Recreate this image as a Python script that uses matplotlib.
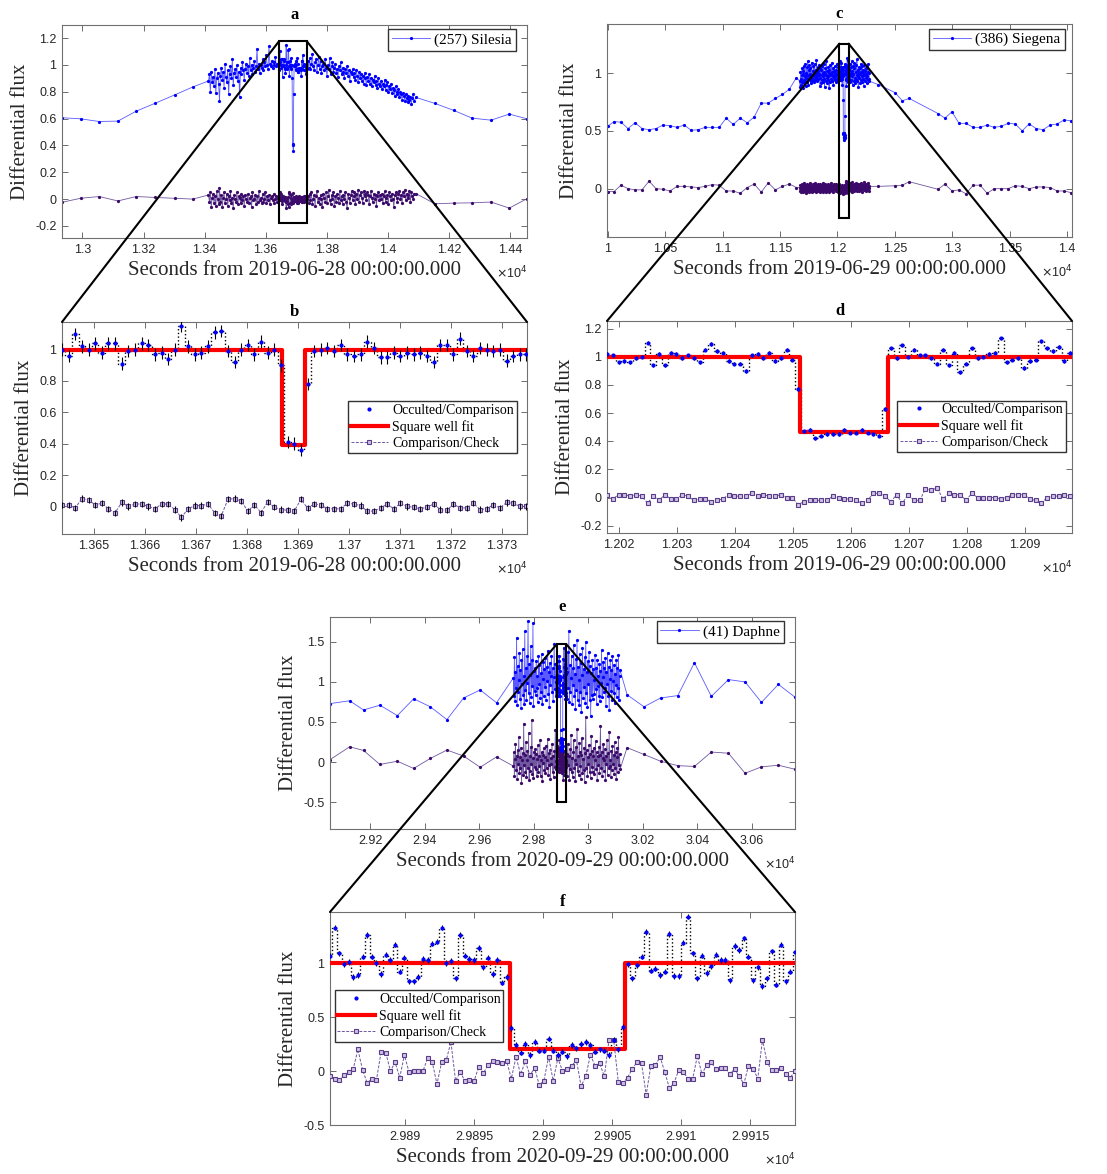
import numpy as np
import matplotlib
matplotlib.use('Agg')
import matplotlib.pyplot as plt
from matplotlib.ticker import FixedLocator, FuncFormatter
from matplotlib.patches import Rectangle, ConnectionPatch

plt.rcParams['font.family'] = ['Liberation Sans', 'DejaVu Sans']
SERIF = 'Liberation Serif'

# ---------------- data: panel a / b  (2019-06-28, (257) Silesia) ----------------
a_sparse_left_t = [12933, 12994, 13055, 13116, 13176, 13239, 13303, 13361]
a_sparse_left_blue = [0.606, 0.598, 0.578, 0.581, 0.655, 0.715, 0.777, 0.835]
a_sparse_left_purple = [-0.024, 0.006, 0.019, -0.014, 0.019, 0.012, 0.006, 0.0]
a_sparse_right_t = [14093, 14154, 14217, 14276, 14338, 14398, 14456]
a_sparse_right_blue = [0.757, 0.713, 0.66, 0.603, 0.588, 0.633, 0.598]
a_sparse_right_purple = [0.04, -0.035, -0.03, -0.028, -0.022, -0.067, 0.003]
a_dense_step = 3  # seconds between dense samples (values below in hundredths)
a_dense_left_blue = [88, 93, 80, 95, 87, 91, 84, 97, 79, 90,
                     94, 86, 73, 92, 98, 89, 95, 83, 101, 91,
                     87, 96, 78, 93, 99, 90, 104, 85, 94, 97,
                     91, 100, 88, 95, 76, 98, 93, 102, 96, 89,
                     97, 101, 94, 99, 92, 105, 96, 100, 93, 98,
                     103, 95, 99, 112, 97, 101, 94, 100, 98, 104,
                     96, 102, 99, 107, 100, 97, 114, 101, 99, 103,
                     98, 102, 100, 106, 99, 101, 100]
a_dense_right_blue = [103, 98, 105, 97, 101, 108, 99, 96, 102, 104,
                      95, 100, 106, 97, 103, 94, 99, 101, 96, 104,
                      98, 92, 100, 97, 105, 93, 99, 102, 95, 98,
                      101, 94, 97, 91, 99, 96, 102, 93, 98, 95,
                      90, 97, 94, 99, 92, 96, 88, 95, 93, 97,
                      91, 94, 89, 96, 92, 87, 95, 90, 93, 88,
                      92, 86, 94, 90, 85, 91, 88, 93, 86, 90,
                      84, 89, 87, 92, 85, 88, 83, 90, 86, 84,
                      88, 82, 86, 84, 89, 81, 85, 87, 80, 84,
                      82, 86, 79, 83, 81, 77, 84, 80, 78, 82,
                      76, 80, 78, 74, 79, 77, 73, 78, 75, 72,
                      77, 74, 76, 71, 75, 78, 73]
a_dense_left_purple = [3, -2, 5, -6, 1, 4, -3, 2, -5, 6,
                       0, -4, 8, -2, 3, -6, 1, 5, -3, 0,
                       4, -5, 2, -1, 6, -3, 1, -7, 3, 0,
                       -2, 5, -4, 2, 1, -3, 4, -1, 2, -5,
                       3, 0, -2, 4, -3, 1, 2, -6, 5, -1,
                       0, 3, -4, 2, -2, 6, -1, 1, -3, 4,
                       -2, 0, 5, -3, 2, -1, 3, -4, 1, 2,
                       -1, 4, -3, 0, 2, -2, 1]
a_dense_right_purple = [2, -3, 4, -1, 5, -4, 0, 3, -5, 2,
                        6, -2, 1, -4, 3, 0, -6, 4, 1, -2,
                        5, -3, 2, 7, -1, -4, 3, 0, 5, -5,
                        2, -2, 4, 1, -3, 6, -1, 2, -4, 3,
                        0, 5, -2, -7, 4, 1, -3, 3, 6, -1,
                        2, 5, -4, 4, 0, 7, -2, 3, 5, 1,
                        -3, 6, 2, 4, -1, 5, 3, -4, 2, 6,
                        1, -2, 4, 0, 3, -5, 2, 5, -1, 3,
                        0, 4, -3, 2, 6, -2, 1, 3, -4, 5,
                        2, -1, 4, 0, -6, 3, 5, 1, -2, 4,
                        6, 0, 3, -3, 5, 2, 7, -1, 4, 1,
                        3, 6, -2, 5, 2, 0, 4]
b_t0, b_dt = 13643.8, 1.3
b_blue = [1.00, 0.96, 1.10, 1.02, 1.00, 1.04, 0.98, 1.04, 1.04, 0.91,
          0.99, 1.00, 1.04, 1.03, 0.97, 0.98, 0.94, 1.00, 1.15, 1.02,
          0.97, 0.98, 1.02, 1.11, 1.12, 0.99, 0.92, 1.00, 1.03, 0.97,
          1.05, 0.98, 1.00, 0.90, 0.41, 0.40, 0.36, 0.78, 0.99, 1.00,
          1.01, 0.99, 1.03, 0.97, 0.96, 0.97, 1.05, 1.01, 0.95, 0.95,
          0.98, 0.96, 0.98, 0.97, 0.98, 0.96, 0.92, 1.03, 1.03, 0.97,
          1.07, 0.99, 0.96, 1.01, 1.00, 0.99, 1.00, 0.93, 0.96, 0.97, 0.97]
b_purple = [0.01, 0.01, -0.01, 0.05, 0.04, 0.01, 0.02, -0.015, -0.04, 0.025,
            0.0, 0.015, 0.015, 0.0, -0.015, 0.015, 0.015, -0.02, -0.07, -0.015,
            0.005, 0.005, 0.015, -0.04, -0.06, 0.045, 0.05, 0.035, -0.03, 0.01,
            -0.04, 0.03, -0.005, -0.02, -0.025, -0.03, 0.045, -0.01, 0.015, 0.01,
            -0.015, -0.015, -0.015, 0.02, 0.015, 0.005, -0.03, -0.03, -0.01, 0.015,
            -0.015, 0.02, 0.0, -0.005, -0.015, -0.005, 0.015, -0.02, -0.025, 0.015,
            -0.01, -0.01, 0.02, -0.02, -0.015, 0.01, -0.01, 0.025, 0.02, 0.0, 0.0]
b_blue_err, b_purple_err = 0.04, 0.02
b_fit = dict(level=1.0, depth=0.39, t_in=13686.9, t_out=13691.5)

# ---------------- data: panel c / d  (2019-06-29, (386) Siegena) ----------------
c_sparse_left_t = [10000, 10055, 10116, 10177, 10238, 10299, 10360, 10421, 10482, 10543,
                   10605, 10666, 10727, 10788, 10849, 10910, 10971, 11032, 11093, 11154,
                   11215, 11276, 11337, 11398, 11460, 11521, 11582, 11643]
c_sparse_left_blue = [0.54, 0.58, 0.575, 0.52, 0.57, 0.52, 0.51, 0.52, 0.55, 0.545,
                      0.53, 0.55, 0.505, 0.51, 0.53, 0.53, 0.53, 0.61, 0.555, 0.61,
                      0.57, 0.62, 0.74, 0.74, 0.78, 0.815, 0.86, 0.96]
c_sparse_left_purple = [-0.025, -0.025, 0.03, 0.0, -0.01, -0.01, 0.065, 0.0, -0.005, -0.02,
                        0.02, 0.02, 0.015, 0.01, 0.02, 0.035, 0.03, -0.02, -0.02, -0.04,
                        0.01, 0.04, -0.03, 0.05, -0.01, 0.02, 0.04, 0.01]
c_sparse_right_t = [12357, 12504, 12565, 12626, 12876, 12937, 12998, 13059, 13120, 13182,
                    13243, 13304, 13365, 13426, 13487, 13548, 13609, 13670, 13731, 13792,
                    13853, 13914, 13976, 14037]
c_sparse_right_blue = [0.90, 0.83, 0.76, 0.78, 0.65, 0.61, 0.665, 0.565, 0.565, 0.53,
                       0.53, 0.55, 0.53, 0.54, 0.565, 0.56, 0.50, 0.56, 0.52, 0.51,
                       0.55, 0.56, 0.595, 0.585]
c_sparse_right_purple = [0.02, 0.025, 0.03, 0.06, -0.005, 0.04, -0.02, -0.01, -0.045, 0.03,
                         0.03, -0.04, 0.0, 0.0, 0.0, 0.025, 0.02, 0.0, 0.015, 0.015,
                         0.01, -0.02, -0.02, -0.035]
c_dense_step = 3
c_dense_left_blue = [93, 88, 101, 95, 90, 98, 104, 92, 87, 99,
                     102, 94, 106, 91, 97, 108, 93, 89, 100, 96,
                     105, 92, 98, 110, 95, 90, 103, 97, 107, 94,
                     99, 104, 91, 96, 109, 98, 93, 102, 95, 106,
                     97, 92, 101, 108, 94, 99, 103, 96, 111, 93,
                     100, 97, 105, 95, 102, 98, 107, 99, 89, 104,
                     96, 91, 103, 98, 94, 106, 100, 92, 97, 108,
                     95, 101, 88, 99, 104, 93, 98, 110, 96, 102,
                     91, 97, 105, 94, 100, 87, 103, 98, 92, 107,
                     99, 95, 101, 109, 93, 97, 104, 90, 98, 102,
                     96, 106, 94, 100, 92, 103, 97, 108, 95, 99,
                     101, 93, 105, 98, 96]
c_dense_right_blue = [103, 95, 108, 98, 92, 105, 100, 94, 110, 97,
                      102, 90, 106, 99, 93, 104, 109, 96, 91, 101,
                      107, 95, 98, 112, 93, 103, 97, 88, 105, 100,
                      96, 104, 91, 99, 108, 94, 101, 97, 106, 92,
                      100, 95, 103, 89, 98, 107, 93, 102, 96, 104,
                      99, 91, 105, 97, 94, 101, 108, 95, 100, 93]
c_dense_left_purple = [1, -2, 3, 0, -3, 2, 4, -1, 1, -3,
                       2, 5, -2, 0, 3, -1, 2, -4, 1, 3,
                       0, -2, 4, 1, -1, 2, -3, 3, 0, 5,
                       -2, 1, 2, -1, 3, -3, 0, 4, 1, -2,
                       2, 0, -1, 3, 5, -2, 1, 2, -3, 0,
                       3, -1, 2, 4, -2, 1, 0, 2, -3, 1,
                       4, -2, 0, 3, -1, 2, 5, -3, 1, 0,
                       -1, 3, 2, -2, 4, 0, 1, -3, 2, 3,
                       0, -2, 1, 4, -1, 2, -3, 0, 3, 1,
                       5, -1, 2, 0, -2, 3, 1, -3, 4, 0,
                       2, -1, 3, 1, -2, 4, 0, 2, -1, 3,
                       1, -3, 2, 0, 4]
c_dense_right_purple = [2, -1, 3, 0, 5, -2, 1, 3, -3, 2,
                        6, 0, -1, 3, 1, -2, 4, 2, 0, -1,
                        3, 5, -2, 1, 2, 4, -1, 3, 0, 2,
                        -2, 4, 1, 0, 3, -1, 5, 2, -3, 1,
                        3, 0, 2, 6, -1, 2, 4, 0, -2, 3,
                        1, 4, -1, 2, 5, 0, 3, -2, 1, 2]
d_t0, d_dt = 12017.9, 1.0
d_blue = [1.02, 1.01, 0.96, 0.97, 0.96, 0.99, 1.00, 1.10, 0.94, 1.02,
          0.94, 1.03, 1.02, 0.99, 1.01, 0.99, 0.96, 1.05, 1.09, 1.04,
          1.03, 0.97, 0.95, 0.95, 0.90, 1.01, 1.02, 0.99, 1.03, 0.97,
          0.99, 1.05, 0.98, 0.77, 0.47, 0.48, 0.42, 0.44, 0.45, 0.45,
          0.45, 0.48, 0.46, 0.46, 0.48, 0.46, 0.45, 0.44, 0.63, 1.06,
          0.99, 1.08, 1.00, 1.05, 1.01, 1.01, 0.99, 0.95, 1.05, 0.94,
          1.03, 0.89, 0.95, 1.06, 0.99, 1.00, 1.02, 1.03, 1.13, 0.96,
          0.98, 0.99, 0.92, 0.97, 0.98, 1.11, 1.06, 1.04, 1.07, 0.97, 1.03]
d_purple = [0.015, -0.01, 0.02, 0.02, 0.01, 0.02, 0.01, -0.04, 0.01, -0.02,
            0.02, -0.01, -0.01, 0.02, 0.01, -0.02, -0.01, -0.01, -0.03, -0.02,
            -0.01, 0.02, 0.01, 0.01, 0.01, 0.03, 0.01, 0.02, 0.01, 0.01,
            0.02, 0.0, 0.0, -0.05, -0.03, -0.02, -0.02, -0.02, -0.02, 0.01,
            0.0, -0.01, -0.01, -0.02, -0.04, -0.02, 0.03, 0.03, 0.01, -0.03,
            0.02, -0.04, 0.02, -0.02, -0.02, 0.06, 0.05, 0.07, -0.01, 0.03,
            0.02, 0.02, -0.02, 0.03, 0.0, 0.0, 0.0, 0.0, -0.01, 0.0,
            0.02, 0.02, 0.02, -0.01, -0.02, -0.04, 0.0, 0.01, 0.01, 0.02, 0.01]
d_blue_err = 0.012
d_fit = dict(level=1.0, depth=0.463, t_in=12051.2, t_out=12066.4)

# ---------------- data: panel e / f  (2020-09-29, (41) Daphne) ----------------
e_sparse_left_t = [29052, 29124, 29175, 29235, 29299, 29359, 29420, 29481, 29542, 29603, 29663]
e_sparse_left_blue = [0.73, 0.765, 0.65, 0.71, 0.58, 0.79, 0.69, 0.53, 0.80, 0.90, 0.74]
e_sparse_left_purple = [0.03, 0.19, 0.145, -0.03, 0.01, -0.08, 0.045, 0.15, 0.075, -0.065, 0.065]
e_sparse_right_t = [30142, 30204, 30265, 30328, 30389, 30451, 30514, 30575, 30635, 30697, 30758]
e_sparse_right_blue = [0.84, 0.69, 0.80, 0.83, 1.24, 0.82, 1.03, 1.0, 0.745, 0.97, 0.81]
e_sparse_right_purple = [0.18, 0.095, 0.01, -0.045, -0.055, 0.125, 0.11, -0.14, -0.06, -0.04, -0.09]
e_dense_step = 2
e_dense_left_blue = [105, 82, 131, 76, 112, 93, 155, 71, 120, 88,
                     102, 136, 79, 115, 68, 128, 97, 141, 84, 108,
                     73, 163, 90, 118, 77, 133, 99, 176, 86, 122,
                     74, 109, 145, 81, 127, 95, 173, 70, 114, 89,
                     118, 84, 126, 92, 107, 75, 133, 98, 121, 80,
                     111, 88, 135, 72, 104, 125, 83, 116, 94, 130,
                     78, 119, 101, 139, 85, 113, 69, 124, 96, 108,
                     132, 87, 117, 76, 106, 148, 91, 123, 82, 100]
e_dense_right_blue = [112, 79, 138, 92, 164, 75, 121, 88, 105, 133,
                      72, 117, 96, 146, 83, 110, 66, 129, 90, 152,
                      78, 119, 102, 71, 135, 87, 124, 62, 109, 142,
                      80, 116, 94, 131, 74, 150, 86, 113, 69, 126,
                      98, 137, 77, 120, 58, 111, 84, 128, 79, 116,
                      103, 85, 134, 91, 118, 73, 127, 95, 108, 82,
                      122, 76, 114, 99, 140, 81, 106, 125, 88, 117,
                      93, 130, 70, 112, 97, 136, 83, 119, 65, 104,
                      127, 89, 115, 78, 132, 101, 86, 121, 74, 110,
                      96, 128, 81, 118, 92, 134, 77, 107, 115]
e_dense_left_purple = [-5, 12, -18, 4, 22, -10, 8, -21, 15, -2,
                       31, -14, 6, -7, 18, -26, 2, 11, -16, 48,
                       -4, 9, -12, 25, -19, 3, 14, -8, 36, -22,
                       7, -11, 19, -3, 52, -15, 5, -20, 13, -6,
                       16, -9, 10, -17, 4, 21, -13, 8, -5, 27,
                       -18, 2, 12, -24, 9, -1, 17, -10, 6, -14,
                       20, -7, 3, 29, -16, 11, -4, 15, -21, 5,
                       -2, 23, -12, 8, -19, 14, -6, 40, -9, 1]
e_dense_right_purple = [10, -17, 23, -4, 8, -22, 16, -9, 34, -13,
                        5, -19, 12, 27, -7, 2, -24, 19, -3, 41,
                        -11, 7, -16, 24, -5, 13, -21, 9, 30, -14,
                        4, -10, 18, -25, 11, 56, -8, 15, -18, 6,
                        -2, 21, -13, 10, -20, 33, -6, 14, -12, 8,
                        17, -15, 3, 26, -9, 12, -22, 7, -4, 19,
                        -14, 9, 45, -7, 13, -18, 5, 22, -11, 2,
                        16, -23, 8, -3, 28, -16, 11, -8, 38, -5,
                        3, -19, 14, -10, 20, -2, 9, -15, 25, -7,
                        12, -21, 6, 17, -12, 31, -4, 10, -9]
f_t0, f_dt = 29884.55, 0.337
f_blue = [1.07, 1.33, 1.09, 0.99, 1.01, 0.87, 0.89, 1.06, 1.26, 1.06,
          1.00, 0.90, 1.08, 1.03, 1.17, 0.92, 1.05, 0.83, 0.83, 0.87,
          1.04, 1.03, 1.18, 1.20, 1.33, 1.00, 1.02, 0.86, 1.26, 1.07,
          1.04, 1.03, 1.14, 0.96, 1.05, 0.90, 1.03, 0.82, 0.87,
          0.40, 0.24, 0.17, 0.25, 0.15, 0.27, 0.19, 0.19, 0.30, 0.19,
          0.15, 0.18, 0.14, 0.24, 0.21, 0.25, 0.27, 0.24, 0.18, 0.20,
          0.19, 0.15, 0.29, 0.20, 0.41,
          0.99, 0.86, 0.98, 1.06, 1.29, 0.93, 0.95, 0.89, 0.92, 1.27,
          0.88, 0.88, 1.19, 1.43, 1.09, 0.86, 1.07, 0.91, 0.97, 1.08,
          1.03, 1.03, 0.84, 1.16, 1.12, 1.23, 1.06, 0.84, 0.96, 0.79,
          0.86, 1.11, 0.80, 1.17, 0.83, 0.92, 1.10]
f_purple = [-0.05, -0.07, -0.08, -0.04, -0.01, 0.02, 0.20, 0.01, -0.11, -0.07,
            -0.08, 0.18, 0.17, 0.00, 0.08, -0.06, 0.15, -0.01, 0.00, 0.00,
            0.00, 0.12, 0.08, -0.12, 0.08, 0.10, 0.27, -0.09, -0.01, -0.09,
            -0.08, -0.09, 0.04, -0.02, 0.06, 0.09, 0.08, 0.07, 0.09,
            -0.07, 0.13, -0.03, 0.09, -0.04, 0.03, -0.13, -0.09, 0.13, -0.09,
            0.12, 0.00, 0.02, 0.05, 0.10, -0.14, -0.05, 0.15, 0.05, 0.07,
            -0.05, 0.29, 0.29, -0.10, -0.11,
            -0.06, 0.02, 0.08, 0.07, -0.22, 0.05, 0.06, 0.13, -0.01, -0.16,
            -0.11, 0.01, -0.01, -0.07, -0.07, 0.14, -0.03, 0.06, 0.08, 0.02,
            0.03, 0.03, -0.03, 0.02, -0.05, -0.12, 0.05, 0.02, -0.07, 0.29,
            0.08, 0.01, 0.01, 0.03, -0.03, -0.06, 0.00]
f_blue_err = 0.025
f_fit = dict(level=1.0, depth=0.20, t_in=29897.6, t_out=29905.9)

# ---------------- text / ticks ----------------
titles = ['a', 'b', 'c', 'd', 'e', 'f']
xlabels = ['Seconds from 2019-06-28 00:00:00.000', 'Seconds from 2019-06-28 00:00:00.000',
           'Seconds from 2019-06-29 00:00:00.000', 'Seconds from 2019-06-29 00:00:00.000',
           'Seconds from 2020-09-29 00:00:00.000', 'Seconds from 2020-09-29 00:00:00.000']
ylabel = 'Differential flux'
names = ['(257) Silesia', '(386) Siegena', '(41) Daphne']
legend_labels = ['Occulted/Comparison', 'Square well fit', 'Comparison/Check']
xticks = {'a': list(range(13000, 14401, 200)), 'b': list(range(13650, 13731, 10)),
          'c': list(range(10000, 14001, 500)), 'd': list(range(12020, 12091, 10)),
          'e': list(range(29200, 30601, 200)), 'f': list(range(29890, 29916, 5))}
yticks = {'a': [-0.2, 0, 0.2, 0.4, 0.6, 0.8, 1, 1.2], 'b': [0, 0.2, 0.4, 0.6, 0.8, 1],
          'c': [0, 0.5, 1], 'd': [-0.2, 0, 0.2, 0.4, 0.6, 0.8, 1, 1.2],
          'e': [-0.5, 0, 0.5, 1, 1.5], 'f': [-0.5, 0, 0.5, 1]}
xlims = {'a': (12933, 14456), 'b': (13643.8, 13734.9), 'c': (9994, 14043),
         'd': (12017.9, 12098.2), 'e': (29052, 30758), 'f': (29884.55, 29918.25)}
ylims = {'a': (-0.29, 1.297), 'b': (-0.176, 1.176), 'c': (-0.418, 1.424),
         'd': (-0.252, 1.254), 'e': (-0.836, 1.811), 'f': (-0.5, 1.474)}
overview_legend_pos = {'a': (0.976, 0.981), 'c': (0.984, 0.978), 'e': (0.976, 0.98)}

BLUE = '#0000ff'
BLUE_LINE = '#5a5aff'
PURPLE = '#3b0a6b'
PURPLE_LINE = '#6f58a0'

W, H = 1107, 1174
fig = plt.figure(figsize=(W / 100, H / 100), dpi=100)


def px_axes(l, t, r, b):
    return fig.add_axes([l / W, 1 - b / H, (r - l) / W, (b - t) / H])


boxes = {'a': (62, 25, 527, 238), 'b': (62, 322, 527, 534),
         'c': (607, 24, 1072, 237), 'd': (607, 321, 1072, 533),
         'e': (330, 617, 795, 829), 'f': (330, 912, 795, 1125)}
axs = {k: px_axes(*v) for k, v in boxes.items()}


def style(ax, key, xlabel):
    ax.set_xlim(xlims[key])
    ax.set_ylim(ylims[key])
    ax.xaxis.set_major_locator(FixedLocator(xticks[key]))
    ax.yaxis.set_major_locator(FixedLocator(yticks[key]))
    ax.xaxis.set_major_formatter(FuncFormatter(lambda v, p: f"{v / 1e4:.6g}"))
    ax.yaxis.set_major_formatter(FuncFormatter(lambda v, p: "0" if abs(v) < 1e-9 else f"{v:.6g}"))
    ax.tick_params(direction='in', top=True, right=True, length=4, width=0.6,
                   color='#555555', labelsize=9, labelcolor='#262626', pad=4)
    for s in ax.spines.values():
        s.set_color('#707070')
        s.set_linewidth(0.8)
    ax.set_title(key, fontfamily=SERIF, fontweight='bold', fontsize=12, pad=4)
    ax.set_xlabel(xlabel, fontfamily=SERIF, fontsize=15, color='#262626', labelpad=4)
    ax.set_ylabel(ylabel, fontfamily=SERIF, fontsize=15, color='#262626', labelpad=4)
    ax.text(1.0, -0.165, r'$\times$10$^{4}$', transform=ax.transAxes, ha='right',
            va='center', fontsize=9, color='#262626')


def overview(ax, key, name, lt, lb, lp, dl_b, dl_p, wt, wb, wp, dr_b, dr_p, step, rt, rb, rp):
    # dense samples sit just before / after the zoom window, 'step' seconds apart
    dl_t = wt[0] - step * np.arange(len(dl_b), 0, -1)
    dr_t = wt[-1] + step * np.arange(1, len(dr_b) + 1)
    dl_tp = wt[0] - step * np.arange(len(dl_p), 0, -1)
    dr_tp = wt[-1] + step * np.arange(1, len(dr_p) + 1)
    t = np.concatenate([lt, dl_t, wt, dr_t, rt])
    tp = np.concatenate([lt, dl_tp, wt, dr_tp, rt])
    vb = np.concatenate([lb, np.array(dl_b) / 100, wb, np.array(dr_b) / 100, rb])
    vp = np.concatenate([lp, np.array(dl_p) / 100, wp, np.array(dr_p) / 100, rp])
    ax.plot(tp, vp, '-', color=PURPLE_LINE, lw=0.6, marker='.', ms=2.6, mfc=PURPLE, mec=PURPLE)
    ax.plot(t, vb, '-', color=BLUE_LINE, lw=0.6, marker='.', ms=2.6, mfc=BLUE, mec=BLUE, label=name)
    ax.legend(loc='upper right', bbox_to_anchor=overview_legend_pos[key],
              prop={'family': SERIF, 'size': 11}, handlelength=2.5,
              handletextpad=0.3, borderpad=0.25, borderaxespad=0, fancybox=False,
              edgecolor='#333333', framealpha=1)


def detail(ax, t0, dt, blue, purple, berr, perr, fit, legpos, legloc):
    t = t0 + dt * np.arange(len(blue))
    tp = t0 + dt * np.arange(len(purple))
    ax.step(t, blue, where='mid', color='k', ls=':', lw=1.0, zorder=2)
    x0, x1 = ax.get_xlim()
    ax.plot([x0, fit['t_in'], fit['t_out'], x1],
            [fit['level'], fit['depth'], fit['level'], fit['level']],
            drawstyle='steps-post', color='#ff0000', lw=3, zorder=3, label=legend_labels[1])
    ax.plot(tp, purple, '--', dashes=(3, 1.5), color=PURPLE_LINE, lw=0.7, marker='s', ms=3.5,
            mfc='#cfc2e2', mec='#5a3d8a', mew=0.8, zorder=3, label=legend_labels[2])
    if perr:
        ax.errorbar(tp, purple, yerr=perr, fmt='none', ecolor='k', elinewidth=0.8, zorder=4)
    if berr:
        ax.errorbar(t, blue, yerr=berr, fmt='none', ecolor='k', elinewidth=0.8, zorder=4)
    ax.plot(t, blue, '.', color=BLUE, ms=4, zorder=5, label=legend_labels[0])
    h, l = ax.get_legend_handles_labels()
    order = [l.index(s) for s in legend_labels]
    ax.legend([h[i] for i in order], [l[i] for i in order], loc=legloc, bbox_to_anchor=legpos,
              prop={'family': SERIF, 'size': 10}, handlelength=2.7, handletextpad=0.3,
              borderpad=0.2, labelspacing=0.22, borderaxespad=0, fancybox=False,
              edgecolor='#333333', framealpha=1)


for i, k in enumerate(titles):
    style(axs[k], k, xlabels[i])

b_t = b_t0 + b_dt * np.arange(len(b_blue))
d_t = d_t0 + d_dt * np.arange(len(d_blue))
f_t = f_t0 + f_dt * np.arange(len(f_blue))

overview(axs['a'], 'a', names[0], a_sparse_left_t, a_sparse_left_blue, a_sparse_left_purple,
         a_dense_left_blue, a_dense_left_purple, b_t, b_blue, b_purple,
         a_dense_right_blue, a_dense_right_purple, a_dense_step,
         a_sparse_right_t, a_sparse_right_blue, a_sparse_right_purple)
overview(axs['c'], 'c', names[1], c_sparse_left_t, c_sparse_left_blue, c_sparse_left_purple,
         c_dense_left_blue, c_dense_left_purple, d_t, d_blue, d_purple,
         c_dense_right_blue, c_dense_right_purple, c_dense_step,
         c_sparse_right_t, c_sparse_right_blue, c_sparse_right_purple)
overview(axs['e'], 'e', names[2], e_sparse_left_t, e_sparse_left_blue, e_sparse_left_purple,
         e_dense_left_blue, e_dense_left_purple, f_t, f_blue, f_purple,
         e_dense_right_blue, e_dense_right_purple, e_dense_step,
         e_sparse_right_t, e_sparse_right_blue, e_sparse_right_purple)

detail(axs['b'], b_t0, b_dt, b_blue, b_purple, b_blue_err, b_purple_err, b_fit, (0.978, 0.383), 'lower right')
detail(axs['d'], d_t0, d_dt, d_blue, d_purple, d_blue_err, 0, d_fit, (0.987, 0.382), 'lower right')
detail(axs['f'], f_t0, f_dt, f_blue, f_purple, f_blue_err, 0, f_fit, (0.0097, 0.39), 'lower left')


def zoom_link(ax_up, ax_low):
    x0, x1 = ax_low.get_xlim()
    y0, y1 = ax_low.get_ylim()
    ax_up.add_patch(Rectangle((x0, y0), x1 - x0, y1 - y0, fill=False, ec='k', lw=1.5, zorder=10))
    for xu, xb in [(x0, 0), (x1, 1)]:
        con = ConnectionPatch(xyA=(xu, y1), coordsA=ax_up.transData, xyB=(xb, 1),
                              coordsB=ax_low.transAxes, color='k', lw=1.5, zorder=20)
        fig.add_artist(con)


zoom_link(axs['a'], axs['b'])
zoom_link(axs['c'], axs['d'])
zoom_link(axs['e'], axs['f'])

fig.savefig('out.png', dpi=100, facecolor='white')
